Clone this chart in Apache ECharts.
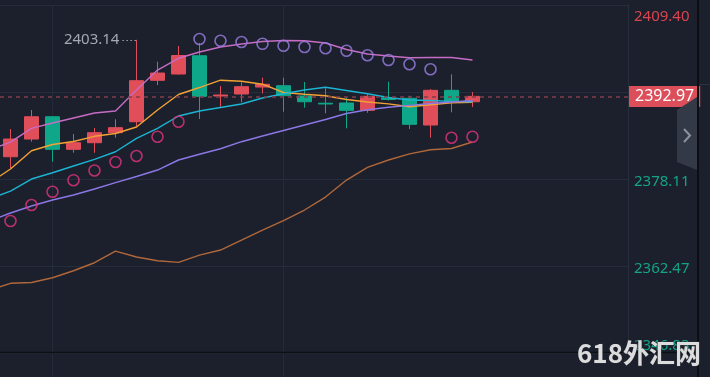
<!DOCTYPE html>
<html><head><meta charset="utf-8">
<script src="https://cdn.jsdelivr.net/npm/echarts@6/dist/echarts.min.js"></script>
<style>html,body{margin:0;padding:0;background:#1b202c;overflow:hidden}#c{width:710px;height:377px}</style>
</head><body><div id="c"></div>
<script>
// ---- data ----
const candleIndex = [0,1,2,3,4,5,6,7,8,9,10,11,12,13,14,15,16,17,18,19,20,21,22];
const opens  = [2382.12,2385.30,2389.31,2383.45,2384.64,2386.44,2388.41,2395.86,2396.99,2400.28,2393.04,2393.40,2394.65,2394.89,2393.04,2391.74,2391.78,2390.46,2392.73,2392.62,2387.82,2394.06,2392.01];
const closes = [2385.30,2389.31,2383.45,2384.64,2386.44,2387.34,2395.79,2397.17,2400.32,2392.98,2393.22,2394.71,2395.14,2393.09,2392.01,2391.60,2390.46,2392.98,2392.41,2387.95,2394.06,2392.01,2392.97];
const lows   = [2380.09,2384.82,2381.22,2382.84,2382.84,2385.54,2387.64,2395.01,2396.90,2388.90,2391.11,2391.90,2393.52,2390.21,2390.93,2389.93,2387.23,2390.03,2392.23,2387.10,2385.54,2390.10,2391.06];
const highs  = [2387.10,2390.52,2389.35,2386.20,2387.28,2388.85,2403.14,2399.20,2402.03,2402.57,2394.83,2395.50,2396.33,2396.33,2395.55,2394.42,2392.73,2393.34,2395.61,2393.09,2394.29,2396.94,2393.76];

const lineIndex = [-1,0,1,2,3,4,5,6,7,8,9,10,11,12,13,14,15,16,17,18,19,20,21,22];
const bandUpper = [2383.33,2384.76,2387.23,2388.18,2389.08,2389.98,2390.34,2394.12,2397.71,2399.82,2400.95,2401.85,2402.39,2402.84,2403.02,2402.98,2402.57,2401.40,2400.59,2400.23,2399.92,2399.96,2399.96,2399.51];
const maFast    = [2377.39,2379.91,2383.20,2384.32,2384.85,2385.79,2386.29,2387.46,2390.52,2393.31,2394.56,2395.88,2395.68,2395.16,2393.67,2393.36,2393.09,2392.41,2391.96,2391.63,2391.11,2391.47,2391.81,2391.92];
const maMid     = [2374.52,2375.95,2378.11,2379.24,2380.45,2381.65,2383.02,2385.43,2387.23,2389.44,2390.34,2390.97,2391.60,2392.68,2393.45,2394.12,2394.60,2394.03,2393.45,2392.77,2392.32,2392.23,2392.08,2392.01];
const maSlow    = [2370.56,2372.00,2373.26,2374.34,2375.23,2376.31,2377.45,2378.56,2379.73,2381.53,2382.57,2383.56,2384.82,2385.84,2386.83,2387.82,2388.81,2389.89,2390.57,2391.02,2391.36,2391.69,2391.96,2392.23];
const bandLower = [2358.15,2359.36,2359.50,2360.36,2361.62,2363.06,2365.16,2364.09,2363.42,2363.13,2364.44,2365.34,2367.14,2368.94,2370.65,2372.54,2374.87,2377.93,2380.22,2381.53,2382.64,2383.38,2383.60,2384.76];
const sar       = [2370.56,2373.44,2375.83,2377.90,2379.64,2381.17,2382.25,2385.72,2388.42,2403.29,2402.98,2402.75,2402.42,2402.08,2401.85,2401.63,2401.18,2400.37,2399.51,2398.75,2397.84,2385.54,2385.72];

const yTickLabels = ['2346.83','2362.47','2378.11','','2409.40'];
const lastPrice = 2392.97;
const vGridAt = [2, 13];
const watermark = '618外汇网';

// ---- view settings ----
const X_MIN = -0.5, X_MAX = 29.405;
const Y_MIN = 2346.83, Y_MAX = 2409.40, Y_INT = 15.6425;
const RED = '#e04e5a', GREEN = '#0fa78a', BG = '#1b202c', GRID = '#262d3a';
const LBL_RED = '#d9454f', LBL_GREEN = '#15a386';

const candleData = opens.map((o, i) => [candleIndex[i], o, closes[i], lows[i], highs[i]]);
const mk = arr => arr.map((v, k) => [lineIndex[k], v]);
let imax = 0; highs.forEach((h, i) => { if (h > highs[imax]) imax = i; });

const sarData = sar.map((v, i) => ({
  value: [candleIndex[i], v],
  itemStyle: { color: 'rgba(0,0,0,0)', borderColor: v > highs[i] ? '#9a7ee2' : '#e2337e', borderWidth: 1.6 }
}));

function lineSeries(name, arr, color) {
  return { name, type: 'line', data: mk(arr), showSymbol: false, symbol: 'none', z: 3,
    lineStyle: { color, width: 1.4 }, animation: false, silent: true };
}
const gridSeries = [];
vGridAt.forEach(x => {
  gridSeries.push({ type: 'line', xAxisIndex: 0, yAxisIndex: 0, data: [[x, Y_MIN], [x, Y_MAX]], symbol: 'none',
    z: 1, silent: true, lineStyle: { color: GRID, width: 1 } });
  gridSeries.push({ type: 'line', xAxisIndex: 1, yAxisIndex: 1, data: [[x, 0], [x, 1]], symbol: 'none',
    z: 1, silent: true, lineStyle: { color: GRID, width: 1 } });
});

const chart = echarts.init(document.getElementById('c'));
chart.setOption({
  backgroundColor: BG,
  animation: false,
  grid: [
    { left: 0, top: 5, width: 628, height: 348 },
    { left: 0, top: 353, width: 628, height: 24 }
  ],
  xAxis: [
    { gridIndex: 0, type: 'value', min: X_MIN, max: X_MAX, show: false, axisLine: { onZero: false } },
    { gridIndex: 1, type: 'value', min: X_MIN, max: X_MAX, show: false, axisLine: { onZero: false } }
  ],
  yAxis: [
    { gridIndex: 0, type: 'value', position: 'right', min: Y_MIN, max: Y_MAX, interval: Y_INT,
      axisLine: { show: true, onZero: false, lineStyle: { color: '#272e3c' } },
      axisTick: { show: false },
      splitLine: { show: true, lineStyle: { color: GRID, width: 1 } },
      axisLabel: { margin: 6, fontSize: 15, fontFamily: 'Noto Sans',
        verticalAlignMaxLabel: 'top', verticalAlignMinLabel: 'bottom',
        color: (v, i) => (i === 4 ? LBL_RED : LBL_GREEN),
        formatter: (v, i) => {
          const t = yTickLabels[i];
          if (!t) return '';
          if (i === yTickLabels.length - 1) return '{t|' + t + '}';
          if (i === 0) return '{b|' + t + '}';
          return '{m|' + t + '}';
        },
        rich: {
          t: { color: LBL_RED, fontSize: 15, fontFamily: 'Noto Sans', padding: [4, 0, 0, 0] },
          m: { color: LBL_GREEN, fontSize: 15, fontFamily: 'Noto Sans', padding: [5, 0, 0, 0] },
          b: { color: LBL_GREEN, fontSize: 15, fontFamily: 'Noto Sans' }
        } } },
    { gridIndex: 1, type: 'value', min: 0, max: 1, show: false, axisLine: { onZero: false } }
  ],
  series: gridSeries.concat([
    { type: 'candlestick', data: candleData, encode: { x: 0, y: [1, 2, 3, 4] }, barWidth: 14, z: 2, clip: false,
      itemStyle: { color: RED, color0: GREEN, borderColor: RED, borderColor0: GREEN, borderWidth: 1 },
      markLine: { silent: true, symbol: ['none', 'none'], animation: false,
        data: [
          { yAxis: lastPrice,
            lineStyle: { color: '#823d4a', type: [4, 4], width: 1.6 },
            label: { show: true, position: 'end', formatter: lastPrice.toFixed(2), backgroundColor: '#dc4f5a',
              color: '#ffffff', fontSize: 16, fontFamily: 'Noto Sans', padding: [3, 6, 2, 6], distance: 1 } },
          [ { coord: [candleIndex[imax] - 0.67, highs[imax]],
              lineStyle: { color: '#9aa1ad', type: [1.5, 2.5], width: 1.2 },
              label: { show: true, position: 'start', formatter: highs[imax].toFixed(2), color: '#a3a8b3',
                fontSize: 15, fontFamily: 'Noto Sans', distance: 3, padding: [7, 0, 0, 0] } },
            { coord: [candleIndex[imax], highs[imax]] } ]
        ] } },
    lineSeries('upper', bandUpper, '#c66cc4'),
    lineSeries('fast', maFast, '#f3a135'),
    lineSeries('mid', maMid, '#1cb4d2'),
    lineSeries('slow', maSlow, '#8c77e6'),
    lineSeries('lower', bandLower, '#b0673a'),
    { type: 'scatter', data: sarData, symbol: 'circle', symbolSize: 11, z: 4, silent: true }
  ]),
  graphic: [
    { type: 'line', z: 50, shape: { x1: 0, y1: 352.5, x2: 698, y2: 352.5 }, style: { stroke: '#0c0f14', lineWidth: 1.5 } },
    { type: 'rect', z: 50, shape: { x: 697, y: 0, width: 2, height: 377 }, style: { fill: '#0c0e13' } },
    { type: 'line', z: 50, shape: { x1: 699, y1: 84.5, x2: 710, y2: 84.5 }, style: { stroke: '#2a3140', lineWidth: 1 } },
    { type: 'polygon', z: 40, shape: { points: [[677, 110], [697, 97], [697, 170], [677, 162]] }, style: { fill: '#333946' } },
    { type: 'polyline', z: 41, shape: { points: [[684, 129], [690, 135.5], [684, 142]] }, style: { stroke: '#8d929c', lineWidth: 2, fill: null } },
    { type: 'text', z: 100, x: 577, y: 353, style: { text: watermark, fill: '#dcdcdc', font: 'bold 26px "Noto Sans CJK SC", "Noto Sans", sans-serif', textVerticalAlign: 'middle', verticalAlign: 'middle', stroke: '#3a3f48', lineWidth: 0.6 } }
  ]
});
</script></body></html>
